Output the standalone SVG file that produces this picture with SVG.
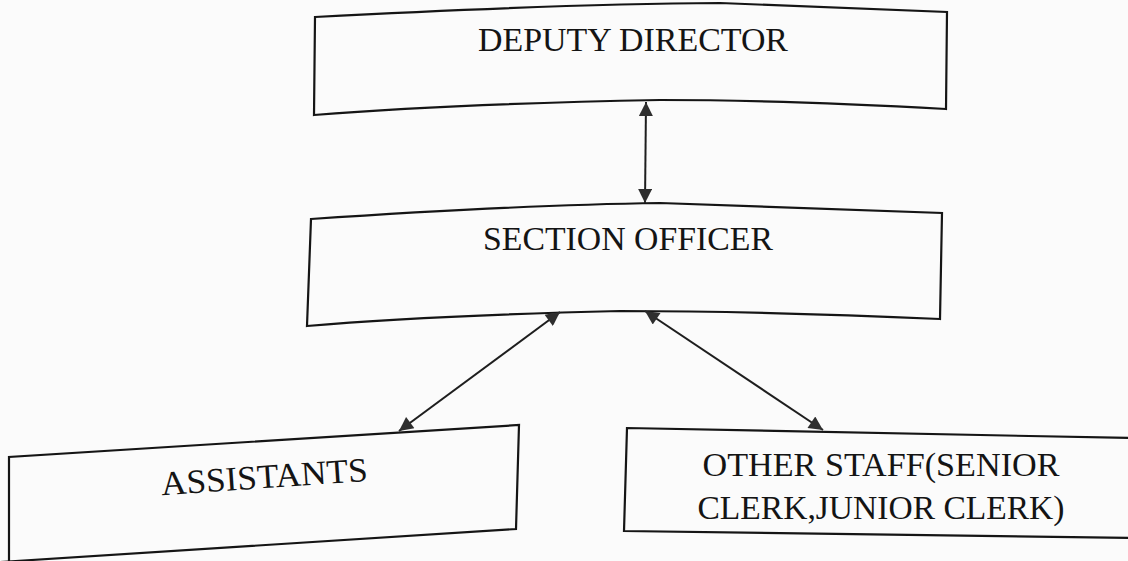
<svg xmlns="http://www.w3.org/2000/svg" width="1128" height="561" viewBox="0 0 1128 561">
  <style>
    .box { fill: none; stroke: #151515; stroke-width: 2.2; stroke-linejoin: miter; }
    .lbl { font-family: "Liberation Serif", "DejaVu Serif", serif; font-size: 34px; fill: #141414; text-anchor: middle; }
    .conn { stroke: #1e1e1e; stroke-width: 2; fill: none; marker-start: url(#ah); marker-end: url(#ah); }
  </style>
  <defs>
    <marker id="ah" viewBox="0 0 10 10" refX="10" refY="5" markerWidth="16" markerHeight="14" markerUnits="userSpaceOnUse" orient="auto-start-reverse">
      <path d="M0,0 L10,5 L0,10 Z" fill="#2e2e2e"/>
    </marker>
  </defs>
  <rect x="0" y="0" width="1128" height="561" fill="#fbfbfb"/>

  <g id="deputy-director">
    <path class="box" d="M315,17 Q560,4 720,3 L947,12 L946,109 Q780,100 660,100 Q450,104 314,115 Z"/>
    <text class="lbl" x="633" y="51" textLength="310" lengthAdjust="spacingAndGlyphs">DEPUTY DIRECTOR</text>
  </g>

  <g id="section-officer">
    <path class="box" d="M311,219 Q520,205 660,203 L942,213 L940,319 Q760,311 620,311 Q420,316 307,326 Z"/>
    <text class="lbl" x="628" y="250" textLength="290" lengthAdjust="spacingAndGlyphs">SECTION OFFICER</text>
  </g>

  <g id="assistants">
    <path class="box" d="M9,562 L9,457 L519,425 L516,529 L0,562"/>
    <text class="lbl" x="265" y="488" textLength="207" lengthAdjust="spacingAndGlyphs" transform="rotate(-4 265 488)">ASSISTANTS</text>
  </g>

  <g id="other-staff">
    <path class="box" d="M1130,438 L627,428 L624,531 L1130,538"/>
    <text class="lbl" x="881" y="476" textLength="357" lengthAdjust="spacingAndGlyphs">OTHER STAFF(SENIOR</text>
    <text class="lbl" x="881" y="519" textLength="367" lengthAdjust="spacingAndGlyphs">CLERK,JUNIOR CLERK)</text>
  </g>

  <g id="connectors">
    <line class="conn" x1="646" y1="102" x2="645" y2="203"/>
    <line class="conn" x1="560" y1="312" x2="399" y2="431"/>
    <line class="conn" x1="645" y1="311" x2="823" y2="430"/>
  </g>
</svg>
